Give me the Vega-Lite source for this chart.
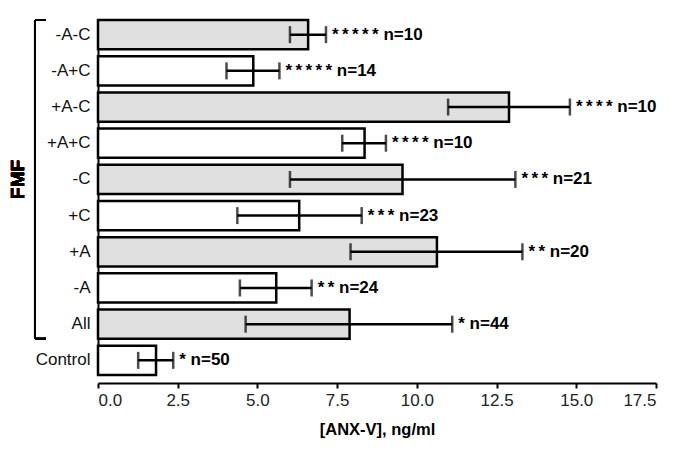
{
  "$schema": "https://vega.github.io/schema/vega-lite/v6.json",
  "width": 558,
  "height": 355,
  "autosize": {"type": "none"},
  "padding": {"left": 98, "top": 20, "right": 29, "bottom": 81},
  "config": {"view": {"stroke": null}, "font": "Liberation Sans"},
  "data": {"values": [
    {"group": "-A-C", "mean": 6.59, "lo": 6.02, "hi": 7.15, "shade": "gray", "label": "*\u2009*\u2009*\u2009*\u2009*  n=10"},
    {"group": "-A+C", "mean": 4.87, "lo": 4.03, "hi": 5.69, "shade": "white", "label": "*\u2009*\u2009*\u2009*\u2009*  n=14"},
    {"group": "+A-C", "mean": 12.89, "lo": 10.98, "hi": 14.8, "shade": "gray", "label": "*\u2009*\u2009*\u2009* n=10"},
    {"group": "+A+C", "mean": 8.36, "lo": 7.66, "hi": 9.03, "shade": "white", "label": "*\u2009*\u2009*\u2009*  n=10"},
    {"group": "-C", "mean": 9.55, "lo": 6.02, "hi": 13.09, "shade": "gray", "label": "*\u2009*\u2009* n=21"},
    {"group": "+C", "mean": 6.31, "lo": 4.37, "hi": 8.27, "shade": "white", "label": "*\u2009*\u2009* n=23"},
    {"group": "+A", "mean": 10.63, "lo": 7.92, "hi": 13.31, "shade": "gray", "label": "*\u2009* n=20"},
    {"group": "-A", "mean": 5.59, "lo": 4.45, "hi": 6.7, "shade": "white", "label": "*\u2009* n=24"},
    {"group": "All", "mean": 7.89, "lo": 4.63, "hi": 11.11, "shade": "gray", "label": "* n=44"},
    {"group": "Control", "mean": 1.82, "lo": 1.26, "hi": 2.36, "shade": "white", "label": "* n=50"}
  ]},
  "encoding": {
    "y": {
      "field": "group", "type": "nominal",
      "scale": {"domain": ["-A-C", "-A+C", "+A-C", "+A+C", "-C", "+C", "+A", "-A", "All", "Control"], "paddingInner": 0.19, "paddingOuter": 0},
      "axis": {"title": null, "ticks": false, "domainColor": "black", "domainWidth": 2, "labelFontSize": 17, "labelColor": "#111", "labelPadding": 8}
    }
  },
  "layer": [
    {
      "mark": {"type": "bar", "stroke": "black", "strokeWidth": 2.5},
      "encoding": {
        "x": {
          "field": "mean", "type": "quantitative",
          "scale": {"domain": [0, 17.5], "nice": false},
          "axis": {"title": "[ANX-V], ng/ml", "titleFontSize": 16.5, "titleFontWeight": "bold", "titleColor": "black", "titlePadding": 13,
                   "values": [0, 2.5, 5, 7.5, 10, 12.5, 15, 17.5], "format": ".1f", "grid": false,
                   "domainColor": "black", "domainWidth": 2, "tickColor": "black", "tickWidth": 2, "tickSize": 5,
                   "labelFontSize": 17, "labelColor": "#222", "labelPadding": 4, "offset": 8}
        },
        "fill": {"field": "shade", "type": "nominal", "scale": {"domain": ["gray", "white"], "range": ["#e0e0e0", "#ffffff"]}, "legend": null}
      }
    },
    {
      "mark": {"type": "rule", "color": "black", "strokeWidth": 2.5},
      "encoding": {"x": {"field": "lo", "type": "quantitative"}, "x2": {"field": "hi"}}
    },
    {
      "mark": {"type": "tick", "color": "black", "orient": "vertical", "size": 17, "thickness": 2.5},
      "encoding": {"x": {"field": "lo", "type": "quantitative"}}
    },
    {
      "mark": {"type": "tick", "color": "black", "orient": "vertical", "size": 17, "thickness": 2.5},
      "encoding": {"x": {"field": "hi", "type": "quantitative"}}
    },
    {
      "mark": {"type": "text", "align": "left", "baseline": "middle", "dx": 6, "fontSize": 17, "fontWeight": "bold", "color": "black"},
      "encoding": {"x": {"field": "hi", "type": "quantitative"}, "text": {"field": "label"}}
    },
    {
      "mark": {"type": "rule", "color": "black", "strokeWidth": 2},
      "encoding": {
        "x": {"datum": -1.976},
        "y": {"datum": "-A-C", "type": "nominal", "bandPosition": 0},
        "y2": {"datum": "All", "bandPosition": 1}
      }
    },
    {
      "mark": {"type": "rule", "color": "black", "strokeWidth": 2},
      "encoding": {
        "x": {"datum": -1.976},
        "x2": {"datum": -1.63},
        "y": {"datum": "-A-C", "type": "nominal", "bandPosition": 0}
      }
    },
    {
      "mark": {"type": "rule", "color": "black", "strokeWidth": 2},
      "encoding": {
        "x": {"datum": -1.976},
        "x2": {"datum": -1.63},
        "y": {"datum": "All", "type": "nominal", "bandPosition": 1}
      }
    },
    {
      "mark": {"type": "text", "angle": 270, "align": "center", "baseline": "middle", "fontSize": 19, "fontWeight": "bold", "color": "black"},
      "encoding": {
        "x": {"datum": -2.52},
        "y": {"datum": "-C", "type": "nominal"},
        "text": {"value": "FMF"}
      }
    }
  ]
}
